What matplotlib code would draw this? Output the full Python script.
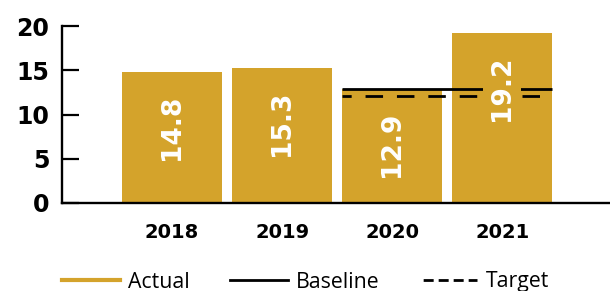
import matplotlib
matplotlib.use("Agg")
import matplotlib.pyplot as plt
from matplotlib.lines import Line2D

# data
years = ["2018", "2019", "2020", "2021"]
actual = [14.8, 15.3, 12.9, 19.2]
baseline_value = 12.9
target_value = 12.1
ref_span = ["2020", "2021"]  # baseline / target drawn across these bars
y_ticks = [0, 5, 10, 15, 20]

GOLD = "#D4A32B"
BAR_W = 100 / 110

fig = plt.figure(figsize=(6.1, 2.91), dpi=100)
ax = fig.add_axes([62 / 610, 88 / 291, 1 - 62 / 610, 177 / 291])

xs = list(range(len(years)))
ax.bar(xs, actual, width=BAR_W, color=GOLD, zorder=2)

i0, i1 = years.index(ref_span[0]), years.index(ref_span[1])
x0, x1 = i0 - BAR_W / 2, i1 + BAR_W / 2
ax.plot([x0, x1], [baseline_value] * 2, color="black", lw=2.0, zorder=3,
        solid_capstyle="butt")
ax.plot([x0, x1], [target_value] * 2, color="black", lw=2.0, zorder=3,
        linestyle=(3.0, (6.3, 5.0)), dash_capstyle="butt")

for x, v in zip(xs, actual):
    ax.annotate(f"{v:.1f}", (x, v), xytext=(0, -16.5), textcoords="offset points",
                rotation=90, ha="center", va="top", color="white",
                fontsize=19, fontweight="bold", zorder=4,
                bbox=dict(boxstyle="square,pad=0.22", fc=GOLD, ec="none"))

ax.set_xlim(-1.0, 3.98)
ax.set_ylim(0, 20)
ax.set_yticks(y_ticks)
ax.set_yticklabels([str(t) for t in y_ticks], fontsize=17, fontweight="bold")
ax.set_xticks(xs)
ax.set_xticklabels(years, fontsize=14, fontweight="bold")

ax.tick_params(axis="y", direction="in", length=12.5, width=1.6, pad=9)
ax.tick_params(axis="x", length=0, pad=14.5)
for s in ["top", "right"]:
    ax.spines[s].set_visible(False)
ax.spines["left"].set_linewidth(1.7)
ax.spines["bottom"].set_linewidth(1.7)
ax.spines["left"].set_bounds(0, 20)

handles = [
    Line2D([], [], color=GOLD, lw=3.0),
    Line2D([], [], color="black", lw=2.0),
    Line2D([], [], color="black", lw=2.0, linestyle=(-1.5, (3.6, 1.8))),
]
fig.legend(handles, ["Actual", "Baseline", "Target"], loc="center left",
           bbox_to_anchor=(62 / 610, 9 / 291), ncol=3, frameon=False,
           borderpad=0, borderaxespad=0, handlelength=2.73, handletextpad=0.38,
           columnspacing=1.88, prop={"family": "Open Sans", "size": 15.3})

fig.savefig("out.png", dpi=100)
